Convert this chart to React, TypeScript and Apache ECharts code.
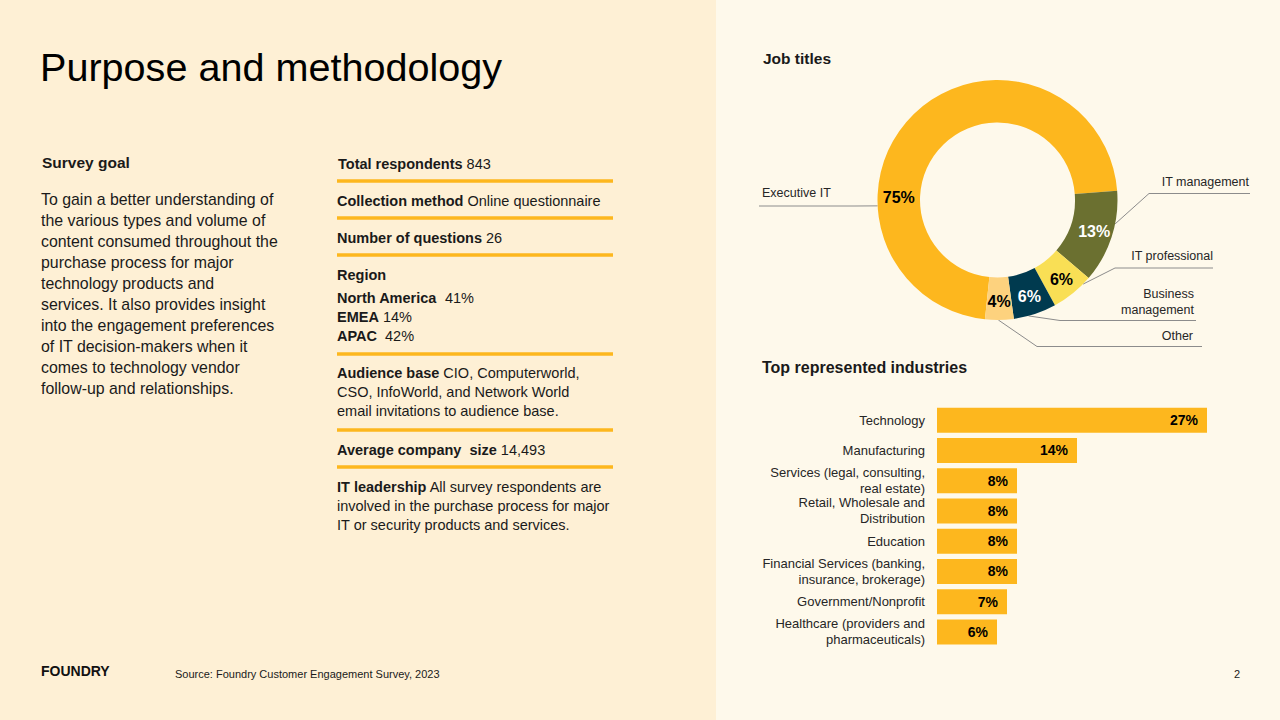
import { useEffect, useRef } from "react";
import * as echarts from "echarts";

// ---------- data ----------
const jobTitles = ["Executive IT", "IT management", "IT professional", "Business\nmanagement", "Other"];
const jobShares = [75, 13, 6, 6, 4];

const industries = [
  "Technology",
  "Manufacturing",
  "Services (legal, consulting,\nreal estate)",
  "Retail, Wholesale and\nDistribution",
  "Education",
  "Financial Services (banking,\ninsurance, brokerage)",
  "Government/Nonprofit",
  "Healthcare (providers and\npharmaceuticals)",
];
const industryShares = [27, 14, 8, 8, 8, 8, 7, 6];

const surveyGoalLines = [
  "To gain a better understanding of",
  "the various types and volume of",
  "content consumed throughout the",
  "purchase process for major",
  "technology products and",
  "services. It also provides insight",
  "into the engagement preferences",
  "of IT decision-makers when it",
  "comes to technology vendor",
  "follow-up and relationships.",
];

// ---------- styles ----------
const FONT = "'Liberation Sans', Arial, Helvetica, sans-serif";
const GOLD = "#FDB71E";
const jobColors = ["#FDB71E", "#6B7030", "#F9DF55", "#003A4F", "#FDD27E"];
const jobLabelColors = ["#000", "#fff", "#000", "#fff", "#000"];
const TEXT = "#1a1a1a";

const CX = 997.5;
const CY = 200;
const R0 = 77.5;
const R1 = 120;

function edge(angleDeg: number): number[] {
  const a = (angleDeg * Math.PI) / 180;
  return [CX + R1 * Math.cos(a), CY - R1 * Math.sin(a)];
}

// leader-line/label placement for the job-title names
const nameLayout = [
  { x: 762, y: 193, align: "left", pts: [edge(182.8), [855, 206], [759, 206]] },
  { x: 1249, y: 182, align: "right", pts: [edge(-11.5), [1149, 193.5], [1250, 193.5]] },
  { x: 1213, y: 256, align: "right", pts: [edge(-44.5), [1115, 268], [1213, 268]] },
  { x: 1194, y: 302, align: "right", pts: [edge(-75), [1060, 320.5], [1196, 320.5]] },
  { x: 1193, y: 336, align: "right", pts: [edge(-89.6), [1037, 346.5], [1202, 346.5]] },
];

function txt(x: number, y: number, text: string, o: any = {}) {
  return {
    type: "text",
    x,
    y,
    style: {
      text,
      fontFamily: FONT,
      fontSize: o.fontSize ?? 14.5,
      fontWeight: o.fontWeight ?? "normal",
      fill: o.fill ?? TEXT,
      align: o.align ?? "left",
      verticalAlign: o.verticalAlign ?? "middle",
      lineHeight: o.lineHeight,
      rich: {
        b: {
          fontFamily: FONT,
          fontSize: o.fontSize ?? 14.5,
          fontWeight: "bold",
          fill: o.fill ?? TEXT,
          lineHeight: o.lineHeight,
        },
      },
    },
  };
}

function sep(y: number) {
  return { type: "rect", shape: { x: 337, y: y - 1.75, width: 276, height: 3.5 }, style: { fill: GOLD } };
}

export default function App() {
  const ref = useRef<HTMLDivElement>(null);

  useEffect(() => {
    if (!ref.current) return;
    const chart = echarts.init(ref.current, null, { renderer: "svg" });

    const graphics: any[] = [
      { type: "rect", z: -10, shape: { x: 716, y: 0, width: 564, height: 720 }, style: { fill: "#FEF9EB" } },
      txt(40, 67, "Purpose and methodology", { fontSize: 39.6, fill: "#000" }),
      txt(42, 162, "Survey goal", { fontSize: 15.5, fontWeight: "bold" }),
      txt(41, 188.5, surveyGoalLines.join("\n"), { fontSize: 15.9, lineHeight: 21, verticalAlign: "top" }),
      // middle column
      txt(338, 164, "{b|Total respondents} 843"),
      sep(181),
      txt(337, 201, "{b|Collection method} Online questionnaire"),
      sep(218),
      txt(337, 238, "{b|Number of questions} 26"),
      sep(255),
      txt(337, 275, "{b|Region}"),
      txt(337, 298, "{b|North America}  41%"),
      txt(337, 317, "{b|EMEA} 14%"),
      txt(337, 336, "{b|APAC}  42%"),
      sep(354),
      txt(337, 363.8, "{b|Audience base} CIO, Computerworld,\nCSO, InfoWorld, and Network World\nemail invitations to audience base.", {
        lineHeight: 19,
        verticalAlign: "top",
      }),
      sep(430),
      txt(337, 449.5, "{b|Average company  size} 14,493"),
      sep(467),
      txt(337, 477.2, "{b|IT leadership} All survey respondents are\ninvolved in the purchase process for major\nIT or security products and services.", {
        lineHeight: 19,
        verticalAlign: "top",
      }),
      // right column titles
      txt(763, 58, "Job titles", { fontSize: 15.5, fontWeight: "bold" }),
      txt(762, 367, "Top represented industries", { fontSize: 16, fontWeight: "bold" }),
      // footer
      txt(41, 671, "FOUNDRY", { fontSize: 14, fontWeight: 900, fill: "#111" }),
      txt(175, 673.5, "Source: Foundry Customer Engagement Survey, 2023", { fontSize: 11 }),
      txt(1234, 674, "2", { fontSize: 11 }),
    ];

    const pieData = jobTitles.map((name, i) => ({
      name,
      value: jobShares[i],
      itemStyle: { color: jobColors[i] },
      label: { color: jobLabelColors[i] },
    }));

    chart.setOption({
      animation: false,
      backgroundColor: "#FEF0D5",
      graphic: { elements: graphics },
      grid: { left: 937, top: 405, width: 300, height: 242 },
      xAxis: { type: "value", min: 0, max: 30, show: false },
      yAxis: {
        type: "category",
        data: industries,
        inverse: true,
        axisLine: { show: false },
        axisTick: { show: false },
        axisLabel: {
          color: "#262626",
          fontFamily: FONT,
          fontSize: 13,
          lineHeight: 16,
          margin: 12,
          align: "right",
        },
      },
      series: [
        {
          type: "bar",
          data: industryShares,
          barWidth: 25,
          itemStyle: { color: GOLD },
          label: {
            show: true,
            position: "insideRight",
            distance: 9,
            formatter: "{c}%",
            fontFamily: FONT,
            fontSize: 14,
            fontWeight: "bold",
            color: "#000",
          },
        },
        {
          type: "pie",
          center: [CX, CY],
          radius: [R0, R1],
          startAngle: 264,
          clockwise: true,
          avoidLabelOverlap: false,
          data: pieData,
          label: {
            show: true,
            position: "inside",
            formatter: "{c}%",
            fontFamily: FONT,
            fontSize: 16,
            fontWeight: "bold",
          },
          labelLine: { show: false },
          labelLayout: (p: any) =>
            p.dataIndex === 0
              ? { x: CX - (R0 + R1) / 2, y: CY - 3, align: "center", verticalAlign: "middle" }
              : {},
        },
        {
          type: "pie",
          silent: true,
          center: [CX, CY],
          radius: [R0, R1],
          startAngle: 264,
          clockwise: true,
          avoidLabelOverlap: false,
          data: jobTitles.map((name, i) => ({ name, value: jobShares[i] })),
          itemStyle: { color: "rgba(0,0,0,0)" },
          label: {
            show: true,
            position: "outside",
            formatter: "{b}",
            fontFamily: FONT,
            fontSize: 12.5,
            lineHeight: 16,
            color: "#262626",
          },
          labelLine: { show: true, lineStyle: { color: "#8c8c8c", width: 1 } },
          labelLayout: (p: any) => {
            const l = nameLayout[p.dataIndex];
            return {
              x: l.x,
              y: l.y,
              align: l.align,
              verticalAlign: "middle",
              labelLinePoints: l.pts,
            };
          },
        },
      ],
    });

    return () => chart.dispose();
  }, []);

  return <div ref={ref} style={{ position: "fixed", left: 0, top: 0, width: 1280, height: 720 }} />;
}
